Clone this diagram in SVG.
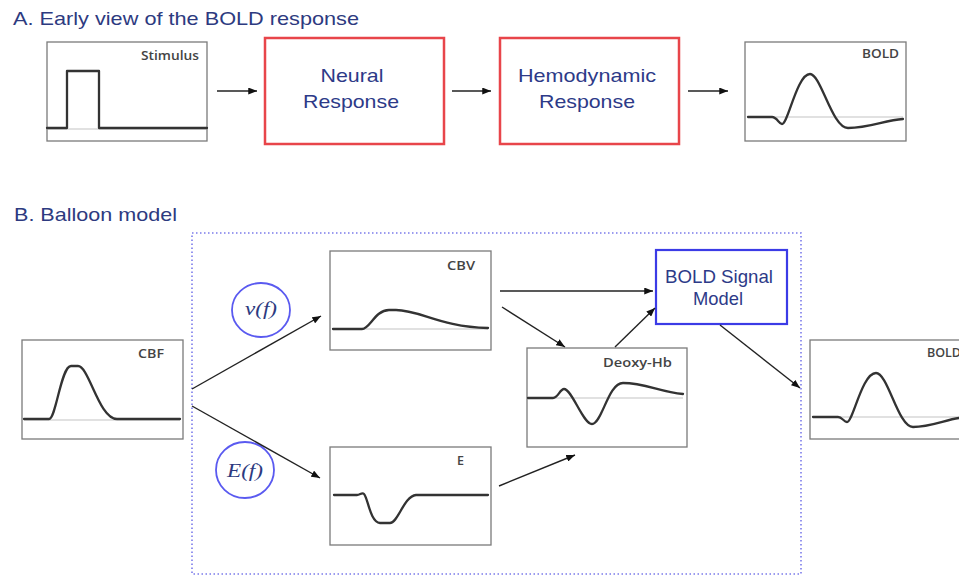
<svg xmlns="http://www.w3.org/2000/svg" width="959" height="575" viewBox="0 0 959 575">
<style>
.title{font-family:"Liberation Sans",Arial,sans-serif;font-size:19px;fill:#2d3a80}
.big{font-family:"Liberation Sans",Arial,sans-serif;font-size:19px;fill:#2d3a88}
.lbl{font-family:"Open Sans","Liberation Sans",sans-serif;font-size:12.5px;font-weight:600;fill:#444}
.ital{font-family:"Liberation Serif","Times New Roman",serif;font-style:italic;font-size:19px;fill:#2d3a80}
.plot{fill:#fff;stroke:#7a7a7a;stroke-width:1.3}
.curve{fill:none;stroke:#333;stroke-width:2.3;stroke-linejoin:round;stroke-linecap:round}
.zero{fill:none;stroke:#c4c4c4;stroke-width:1.2}
.red{fill:#fff;stroke:#e8454a;stroke-width:2.5}
.blue{fill:#fff;stroke:#3b3be6;stroke-width:2.2}
.circ{fill:none;stroke:#5a5af0;stroke-width:1.8}
.conn{fill:none;stroke:#222;stroke-width:1.4;marker-end:url(#ah)}
</style>
<defs>
<marker id="ah" viewBox="0 0 10 8" refX="10" refY="4" markerWidth="9" markerHeight="7" markerUnits="userSpaceOnUse" orient="auto">
<path d="M0,0 L10,4 L0,8 z" fill="#111"/>
</marker>
</defs>
<rect width="959" height="575" fill="#fff"/>

<text class="title" x="13" y="25" textLength="346" lengthAdjust="spacingAndGlyphs">A. Early view of the BOLD response</text>
<text class="title" x="14" y="221" textLength="163" lengthAdjust="spacingAndGlyphs">B. Balloon model</text>

<g id="stimulus">
<rect class="plot" x="47" y="42" width="160" height="99"/>
<path class="zero" d="M47,129 H207"/>
<path class="curve" d="M47,128 H67 V71 H99 V128 H207"/>
<text class="lbl" x="199" y="60" text-anchor="end" textLength="58" lengthAdjust="spacingAndGlyphs">Stimulus</text>
</g>

<g id="neural">
<rect class="red" x="265" y="38" width="179" height="106"/>
<text class="big" x="352" y="82" text-anchor="middle" textLength="63" lengthAdjust="spacingAndGlyphs">Neural</text>
<text class="big" x="351" y="108" text-anchor="middle" textLength="96" lengthAdjust="spacingAndGlyphs">Response</text>
</g>

<g id="hemodynamic">
<rect class="red" x="500" y="38" width="179" height="106"/>
<text class="big" x="587" y="82" text-anchor="middle" textLength="138" lengthAdjust="spacingAndGlyphs">Hemodynamic</text>
<text class="big" x="587" y="108" text-anchor="middle" textLength="96" lengthAdjust="spacingAndGlyphs">Response</text>
</g>

<g id="bold-top">
<rect class="plot" x="745" y="42" width="161" height="99"/>
<path class="zero" d="M748,117 H903"/>
<path class="curve" d="M748,117 L772,117 C777,117 779,124 782,124 C788,124 797,74 810,74 C821,74 832,128 848,128 C870,128 885,120 903,119"/>
<text class="lbl" x="899" y="58" text-anchor="end" textLength="37" lengthAdjust="spacingAndGlyphs">BOLD</text>
</g>

<rect id="balloon-box" x="192" y="233" width="609" height="341" fill="none" stroke="#7b7bea" stroke-width="1.6" stroke-dasharray="1.5 2.5"/>

<g id="cbf">
<rect class="plot" x="22" y="340" width="161" height="99"/>
<path class="zero" d="M24,420 H180"/>
<path class="curve" d="M24,419 H49 C56,419 61,366 71,366 H78 C89,366 99,419 117,419 H180"/>
<text class="lbl" x="164" y="358" text-anchor="end" textLength="26" lengthAdjust="spacingAndGlyphs">CBF</text>
</g>

<g id="vf">
<ellipse class="circ" cx="261" cy="310" rx="29" ry="27"/>
<text class="ital" x="261" y="315" text-anchor="middle" textLength="32" lengthAdjust="spacingAndGlyphs">v(f)</text>
</g>

<g id="ef">
<ellipse class="circ" cx="245" cy="470" rx="29" ry="28"/>
<text class="ital" x="245" y="477" text-anchor="middle" textLength="36" lengthAdjust="spacingAndGlyphs">E(f)</text>
</g>

<g id="cbv">
<rect class="plot" x="330" y="251" width="161" height="99"/>
<path class="zero" d="M333,329 H488"/>
<path class="curve" d="M333,329 H362 C370,329 375,310 389,310 H396 C420,310 440,327 488,328"/>
<text class="lbl" x="475" y="270" text-anchor="end" textLength="28" lengthAdjust="spacingAndGlyphs">CBV</text>
</g>

<g id="e">
<rect class="plot" x="330" y="447" width="161" height="98"/>
<path class="curve" d="M334,495 H357 C360,495 362,492 364,494 C368,498 370,522 380,523 H390 C398,523 404,496 416,495 H488"/>
<text class="lbl" x="464" y="465" text-anchor="end">E</text>
</g>

<g id="deoxy">
<rect class="plot" x="527" y="348" width="160" height="99"/>
<path class="zero" d="M528,398 H683"/>
<path class="curve" d="M528,398 H553 C558,398 560,389 564,389 C572,389 583,424 592,424 C602,424 608,383 623,383 C645,383 660,392 683,394"/>
<text class="lbl" x="672" y="367" text-anchor="end" textLength="69" lengthAdjust="spacingAndGlyphs">Deoxy-Hb</text>
</g>

<g id="bold-model">
<rect class="blue" x="656" y="250" width="131" height="74"/>
<text class="big" x="719" y="283" text-anchor="middle" font-size="17" textLength="108" lengthAdjust="spacingAndGlyphs">BOLD Signal</text>
<text class="big" x="718" y="305" text-anchor="middle" font-size="17" textLength="50" lengthAdjust="spacingAndGlyphs">Model</text>
</g>

<g id="bold-right">
<rect class="plot" x="810" y="340" width="160" height="99"/>
<path class="zero" d="M813,417 H959"/>
<path class="curve" d="M813,417 H838 C842,417 844,422 847,422 C853,422 862,373 876,373 C888,373 898,427 913,427 C930,427 945,420 959,418"/>
<text class="lbl" x="927" y="357">BOLD</text>
</g>

<g id="connectors">
<path class="conn" d="M217,91 H257"/>
<path class="conn" d="M452,91 H491"/>
<path class="conn" d="M688,91 H728"/>
<path class="conn" d="M192,389 L321,316"/>
<path class="conn" d="M192,406 L320,478"/>
<path class="conn" d="M500,291 H653"/>
<path class="conn" d="M502,307 L565,347"/>
<path class="conn" d="M615,347 L655,308"/>
<path class="conn" d="M499,486 L575,455"/>
<path class="conn" d="M720,325 L800,388"/>
</g>
</svg>
